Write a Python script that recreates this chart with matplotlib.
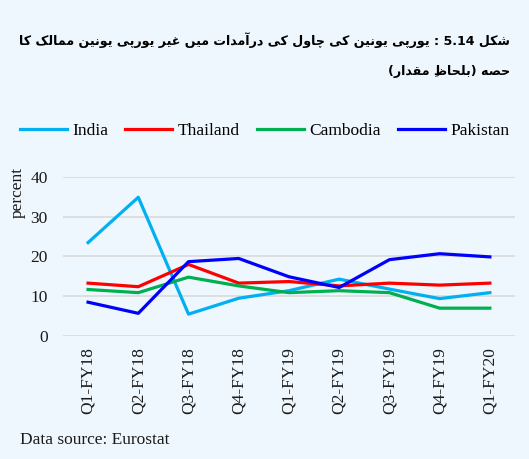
import matplotlib
matplotlib.use('Agg')
import matplotlib.pyplot as plt
import numpy as np

# Data
quarters = ['Q1-FY18', 'Q2-FY18', 'Q3-FY18', 'Q4-FY18', 'Q1-FY19',
            'Q2-FY19', 'Q3-FY19', 'Q4-FY19', 'Q1-FY20']
india = [23.5, 34.9, 5.5, 9.5, 11.4, 14.3, 11.8, 9.4, 10.9]
thailand = [13.3, 12.4, 18.0, 13.3, 13.7, 12.6, 13.3, 12.8, 13.3]
cambodia = [11.7, 10.9, 14.8, 12.6, 10.9, 11.4, 10.9, 7.0, 7.0]
pakistan = [8.5, 5.7, 18.7, 19.5, 14.9, 12.2, 19.2, 20.7, 19.9]

title_line1 = 'شکل 5.14 : یورپی یونین کی چاول کی درآمدات میں غیر یورپی یونین ممالک کا'
title_line2 = 'حصہ (بلحاظِ مقدار)'

# --- minimal Arabic-script shaping (matplotlib has no text shaping) ---
# isolated, final, initial, medial
DUAL = {
    'ب': 'ﺏﺐﺑﺒ', 'ت': 'ﺕﺖﺗﺘ', 'ح': 'ﺡﺢﺣﺤ', 'ش': 'ﺵﺶﺷﺸ',
    'ص': 'ﺹﺺﺻﺼ', 'ظ': 'ﻅﻆﻇﻈ', 'غ': 'ﻍﻎﻏﻐ', 'ق': 'ﻕﻖﻗﻘ',
    'ل': 'ﻝﻞﻟﻠ', 'م': 'ﻡﻢﻣﻤ', 'ن': 'ﻥﻦﻧﻨ',
    'پ': '\ufb56\ufb57\ufb58\ufb59', 'چ': '\ufb7a\ufb7b\ufb7c\ufb7d',
    'ک': '\ufb8e\ufb8f\ufb90\ufb91', 'ی': '\ufbfc\ufbfd\ufbfe\ufbff',
    # heh goal: DejaVu lacks some of its forms, use the heh shapes
    'ہ': '\ufee9\ufeea\ufeeb\ufeec', 'ں': '\ufb9e\ufb9f\ufb9e\ufb9f',
}
RIGHT = {'ا': 'ﺍﺎ', 'آ': 'ﺁﺂ', 'د': 'ﺩﺪ', 'ر': 'ﺭﺮ', 'و': 'ﻭﻮ'}
MARKS = {'\u0650'}


def shape(text):
    chars = list(text)
    out = []
    def neighbour(i, step):
        j = i + step
        while 0 <= j < len(chars) and chars[j] in MARKS:
            j += step
        return chars[j] if 0 <= j < len(chars) else ''
    for i, c in enumerate(chars):
        if c not in DUAL and c not in RIGHT:
            out.append(c)
            continue
        prev, nxt = neighbour(i, -1), neighbour(i, 1)
        join_prev = prev in DUAL
        join_next = c in DUAL and (nxt in DUAL or nxt in RIGHT)
        forms = DUAL.get(c) or RIGHT.get(c)
        if c in RIGHT:
            out.append(forms[1] if join_prev else forms[0])
        elif join_prev and join_next:
            out.append(forms[3])
        elif join_prev:
            out.append(forms[1])
        elif join_next:
            out.append(forms[2])
        else:
            out.append(forms[0])
    s = ''.join(out)[::-1]
    # keep digit runs left-to-right, mirror brackets
    res, run = '', ''
    for c in s:
        if c.isdigit() or (c == '.' and run):
            run += c
        else:
            res += run[::-1] + c
            run = ''
    res += run[::-1]
    return res.translate(str.maketrans('()', ')('))


bg = '#EEF7FD'
plt.rcParams['font.family'] = ['Liberation Serif']

fig = plt.figure(figsize=(5.29, 4.59), dpi=100, facecolor=bg)
ax = fig.add_axes([0.119, 0.268, 0.8545, 0.3464], facecolor=bg)

x = np.arange(len(quarters))
lw = 2.3
ax.plot(x, india, color='#00B0F0', lw=lw, label='India')
ax.plot(x, thailand, color='#FF0000', lw=lw, label='Thailand')
ax.plot(x, cambodia, color='#00B050', lw=lw, label='Cambodia')
ax.plot(x, pakistan, color='#0000FF', lw=lw, label='Pakistan')

ax.set_xlim(-0.5, len(quarters) - 0.5)
ax.set_ylim(0, 40)
ax.set_yticks([0, 10, 20, 30, 40])
ax.set_xticks(x)
ax.set_xticklabels(quarters, rotation=90)
ax.tick_params(axis='both', length=0, labelsize=12.5, colors='#1a1a1a')
ax.tick_params(axis='y', pad=11)
ax.tick_params(axis='x', pad=8)
ax.grid(axis='y', color='#D9D9D9', lw=1.2)
ax.set_axisbelow(True)
for s in ax.spines.values():
    s.set_visible(False)

fig.text(18 / 529, 1 - 192 / 459, 'percent', rotation=90, ha='center',
         va='center', fontsize=12.5, color='#1a1a1a')

fig.legend(loc='center', bbox_to_anchor=(0.5, 1 - 131 / 459), ncol=4,
           frameon=False, fontsize=12.5, handlelength=2.7,
           handletextpad=0.3, columnspacing=1.0)

fig.text(20 / 529, 1 - 440 / 459, 'Data source: Eurostat', ha='left',
         va='center', fontsize=12.5, color='#1a1a1a')

fig.text(510 / 529, 1 - 40 / 459, shape(title_line1), ha='right', va='center',
         fontsize=9.1, fontweight='bold', family=['DejaVu Sans'])
fig.text(510 / 529, 1 - 72 / 459, shape(title_line2), ha='right', va='center',
         fontsize=9.1, fontweight='bold', family=['DejaVu Sans'])

fig.savefig('out.png', dpi=100, facecolor=bg)
